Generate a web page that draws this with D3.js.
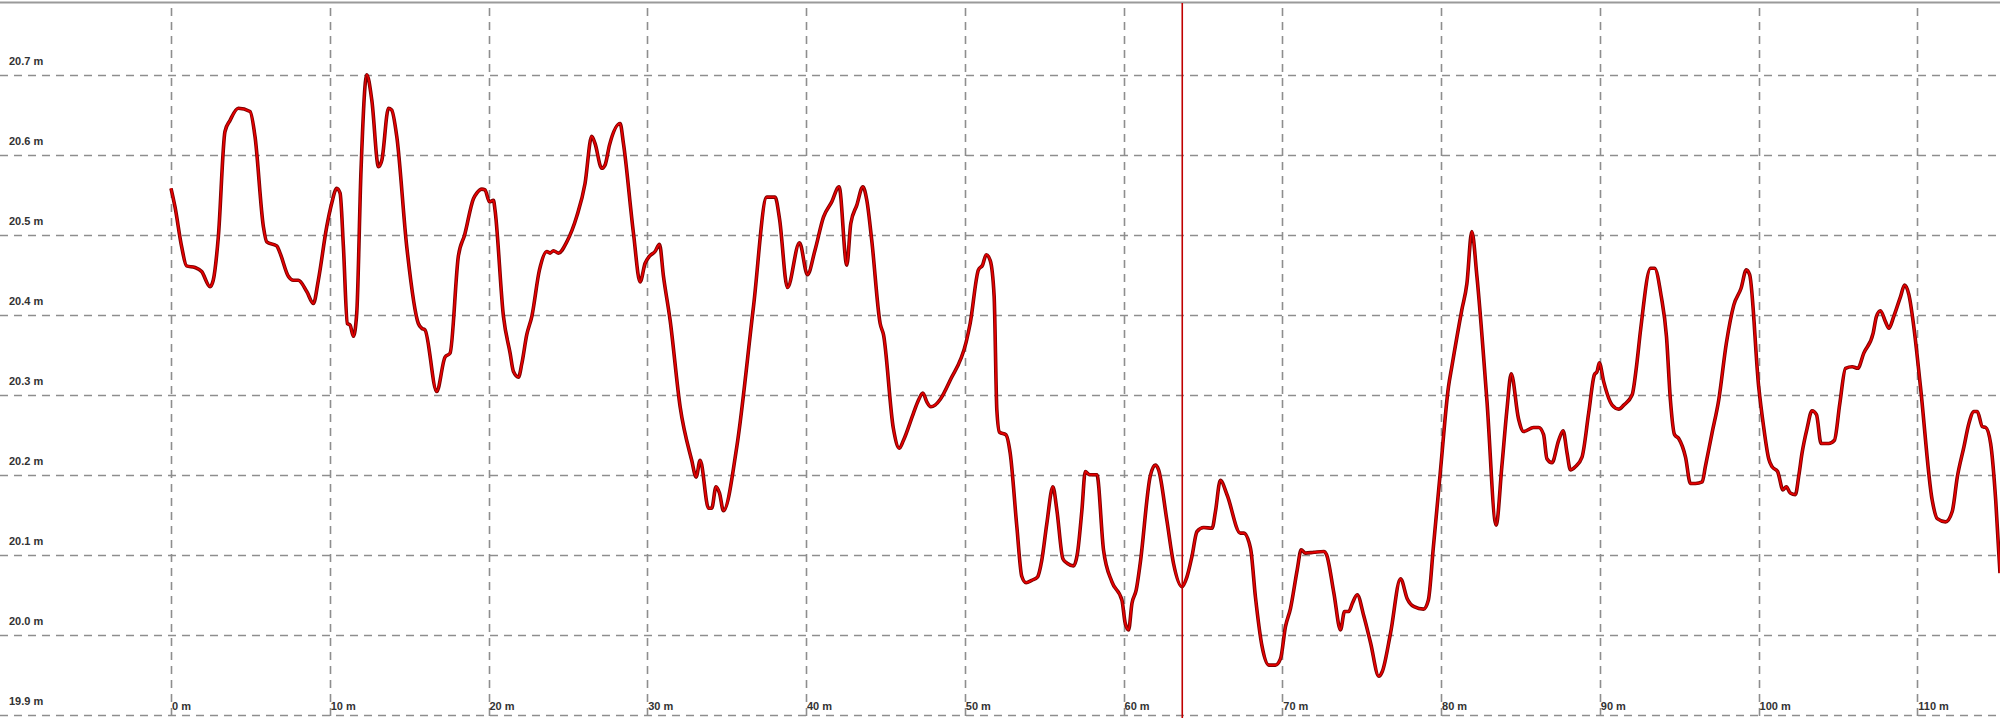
<!DOCTYPE html>
<html>
<head>
<meta charset="utf-8">
<script src="https://cdn.jsdelivr.net/npm/d3@7/dist/d3.min.js"></script>
<style>
  html, body { margin: 0; padding: 0; background: #fff; }
  svg { display: block; }
</style>
</head>
<body>
<svg id="chart" width="2000" height="718"></svg>
<script>
// ---- data ----
const distances = [
  0, 0.25, 0.67, 0.98, 1.51, 1.93, 2.46, 2.66, 2.98, 3.4, 3.72, 4.24, 4.98, 5.29, 5.82, 6.03, 6.66, 6.87, 7.39, 7.71,
  8.02, 8.55, 8.97, 9.28, 9.81, 10.12, 10.44, 10.65, 10.86, 11.11, 11.28, 11.49, 11.7, 11.97, 12.33, 12.65, 13.07, 13.28, 13.7, 13.9,
  14.22, 14.85, 15.58, 15.8, 16.0, 16.74, 17.26, 17.58, 18.1, 18.5, 19.05, 19.26, 19.58, 19.78, 20.06, 20.31, 20.41, 20.94, 21.36, 21.57,
  21.89, 22.1, 22.41, 22.73, 23.21, 23.67, 23.88, 24.09, 24.41, 24.93, 25.56, 26.08, 26.5, 26.71, 27.13, 27.34, 27.62, 28.29, 28.5, 29.13,
  29.55, 29.86, 30.13, 30.49, 30.77, 31.02, 31.44, 32.07, 32.8, 33.08, 33.33, 33.86, 34.06, 34.33, 34.55, 34.8, 35.64, 36.69, 37.53, 38.05,
  38.33, 38.83, 39.59, 40.09, 40.57, 41.1, 41.62, 42.08, 42.57, 42.82, 43.2, 43.58, 43.83, 44.14, 44.67, 44.88, 45.5, 45.88, 46.14, 46.77,
  47.08, 47.36, 47.61, 47.86, 48.13, 48.45, 49.08, 50.09, 50.34, 50.86, 51.12, 51.35, 51.6, 51.85, 52.02, 52.19, 52.59, 52.86, 53.28, 53.59,
  53.86, 54.22, 54.58, 54.85, 55.17, 55.55, 55.8, 56.18, 56.47, 56.85, 57.1, 57.38, 57.59, 57.86, 58.32, 58.74, 59.27, 59.9, 60.11, 60.32,
  60.53, 60.8, 61.05, 61.68, 62.0, 62.21, 62.73, 63.15, 63.68, 63.99, 64.31, 64.63, 65.05, 65.58, 65.79, 66.1, 66.52, 67.36, 67.57, 68.0,
  68.31, 68.73, 69.15, 69.57, 69.89, 70.2, 70.52, 70.94, 71.19, 71.46, 71.99, 72.62, 72.79, 73.25, 73.67, 73.92, 74.19, 74.41, 74.72, 75.14,
  75.56, 76.08, 76.3, 76.82, 77.45, 77.87, 78.3, 78.9, 79.2, 79.52, 79.95, 80.47, 80.68, 81.31, 81.63, 81.94, 82.26, 82.89, 83.47, 83.83,
  84.15, 84.42, 84.88, 85.2, 85.83, 86.15, 86.46, 86.67, 86.99, 87.41, 87.69, 87.94, 88.15, 88.46, 88.88, 89.3, 89.66, 89.83, 89.97, 90.25,
  90.78, 91.2, 91.51, 92.04, 92.31, 92.57, 93.2, 93.45, 93.87, 94.2, 94.45, 94.71, 94.98, 95.4, 95.71, 96.03, 96.45, 96.65, 97.07, 97.49,
  97.97, 98.44, 98.9, 99.23, 99.44, 100.01, 100.32, 100.64, 100.85, 101.2, 101.54, 101.75, 102.0, 102.32, 102.53, 102.74, 103.06, 103.37, 103.65, 103.94,
  104.42, 104.78, 105.12, 105.48, 105.9, 106.25, 106.63, 107.22, 107.43, 107.68, 108.0, 108.21, 108.52, 108.95, 109.2, 109.47, 109.78, 110.2, 110.94, 111.26,
  111.78, 112.2, 112.52, 112.94, 113.25, 113.57, 113.78, 114.1, 114.31, 114.62, 114.94, 115.21
];
const elevations = [
  20.558, 20.535, 20.485, 20.461, 20.459, 20.454, 20.435, 20.443, 20.497, 20.629, 20.643, 20.658, 20.654, 20.623, 20.51, 20.491, 20.486, 20.477, 20.448, 20.443,
  20.443, 20.429, 20.414, 20.443, 20.51, 20.539, 20.558, 20.552, 20.485, 20.389, 20.387, 20.373, 20.402, 20.581, 20.7, 20.668, 20.585, 20.593, 20.658, 20.656,
  20.623, 20.485, 20.389, 20.383, 20.381, 20.304, 20.347, 20.352, 20.473, 20.5, 20.545, 20.552, 20.557, 20.556, 20.541, 20.543, 20.531, 20.398, 20.352, 20.329,
  20.322, 20.339, 20.375, 20.398, 20.456, 20.479, 20.477, 20.48, 20.477, 20.491, 20.523, 20.564, 20.623, 20.614, 20.583, 20.587, 20.612, 20.639, 20.614, 20.502,
  20.441, 20.464, 20.473, 20.479, 20.488, 20.448, 20.393, 20.285, 20.218, 20.197, 20.218, 20.158, 20.158, 20.185, 20.177, 20.155, 20.235, 20.41, 20.547, 20.547,
  20.52, 20.434, 20.49, 20.45, 20.481, 20.522, 20.541, 20.56, 20.462, 20.514, 20.537, 20.56, 20.543, 20.493, 20.389, 20.375, 20.258, 20.233, 20.243, 20.277,
  20.293, 20.302, 20.291, 20.285, 20.287, 20.294, 20.318, 20.366, 20.389, 20.456, 20.462, 20.475, 20.468, 20.423, 20.281, 20.253, 20.25, 20.227, 20.135, 20.073,
  20.065, 20.068, 20.072, 20.093, 20.139, 20.185, 20.156, 20.095, 20.089, 20.086, 20.102, 20.156, 20.204, 20.2, 20.2, 20.106, 20.066, 20.043, 20.014, 20.006,
  20.039, 20.056, 20.089, 20.198, 20.212, 20.206, 20.143, 20.089, 20.06, 20.072, 20.098, 20.129, 20.134, 20.133, 20.154, 20.193, 20.175, 20.127, 20.127, 20.108,
  20.047, 19.985, 19.962, 19.962, 19.97, 20.01, 20.033, 20.081, 20.106, 20.102, 20.103, 20.104, 20.1, 20.052, 20.006, 20.029, 20.029, 20.039, 20.05, 20.023,
  19.99, 19.948, 19.954, 20.002, 20.07, 20.045, 20.035, 20.032, 20.043, 20.11, 20.202, 20.31, 20.335, 20.406, 20.439, 20.504, 20.448, 20.293, 20.137, 20.21,
  20.281, 20.326, 20.27, 20.254, 20.259, 20.259, 20.25, 20.22, 20.215, 20.243, 20.255, 20.227, 20.206, 20.21, 20.222, 20.277, 20.325, 20.329, 20.34, 20.316,
  20.287, 20.282, 20.287, 20.3, 20.335, 20.381, 20.458, 20.458, 20.423, 20.373, 20.293, 20.25, 20.245, 20.222, 20.189, 20.189, 20.191, 20.21, 20.252, 20.293,
  20.364, 20.412, 20.433, 20.456, 20.45, 20.31, 20.26, 20.22, 20.21, 20.204, 20.181, 20.185, 20.177, 20.175, 20.198, 20.227, 20.258, 20.28, 20.275, 20.239,
  20.239, 20.243, 20.289, 20.333, 20.335, 20.333, 20.352, 20.377, 20.398, 20.405, 20.391, 20.383, 20.398, 20.423, 20.437, 20.425, 20.385, 20.31, 20.168, 20.145,
  20.141, 20.154, 20.197, 20.235, 20.264, 20.279, 20.279, 20.26, 20.259, 20.239, 20.168, 20.077
];
const xTicks = [0, 10, 20, 30, 40, 50, 60, 70, 80, 90, 100, 110];
const yTicks = [19.9, 20.0, 20.1, 20.2, 20.3, 20.4, 20.5, 20.6, 20.7];
const cursorDistance = 63.7;

// ---- layout ----
const W = 2000, H = 718;
const svg = d3.select("#chart");
const x = d3.scaleLinear().domain([0, 115.21]).range([171, 2000]);
const y = d3.scaleLinear().domain([19.9, 20.7]).range([714.7, 74.7]);

const gridColor = "#8e8e8e";
const dash = "8,6";

// top border
svg.append("line").attr("x1", 0).attr("x2", W).attr("y1", 2.5).attr("y2", 2.5)
  .attr("stroke", "#9a9a9a").attr("stroke-width", 2);

// horizontal grid
svg.append("g").selectAll("line").data(yTicks).join("line")
  .attr("x1", 0).attr("x2", W)
  .attr("y1", d => Math.round(y(d)) + 0.5).attr("y2", d => Math.round(y(d)) + 0.5)
  .attr("stroke", gridColor).attr("stroke-width", 1.6).attr("stroke-dasharray", dash);

// vertical grid
svg.append("g").selectAll("line").data(xTicks).join("line")
  .attr("x1", d => Math.round(x(d)) + 0.5).attr("x2", d => Math.round(x(d)) + 0.5)
  .attr("y1", 8).attr("y2", H)
  .attr("stroke", gridColor).attr("stroke-width", 1.6).attr("stroke-dasharray", dash);

// y labels
svg.append("g").selectAll("text").data(yTicks).join("text")
  .attr("x", 9).attr("y", d => y(d) - 10)
  .attr("font-family", "Liberation Sans, Arial, sans-serif")
  .attr("font-size", 11).attr("font-weight", "bold").attr("fill", "#333")
  .text(d => d3.format(".1f")(d) + " m");

// x labels
svg.append("g").selectAll("text").data(xTicks).join("text")
  .attr("x", d => x(d) + 1).attr("y", 710)
  .attr("font-family", "Liberation Sans, Arial, sans-serif")
  .attr("font-size", 11).attr("font-weight", "bold").attr("fill", "#333")
  .text(d => d + " m");

// profile line
const pts = distances.map((d, i) => [d, elevations[i]]);
const line = d3.line().x(d => x(d[0])).y(d => y(d[1])).curve(d3.curveMonotoneX);
svg.append("path").attr("d", line(pts)).attr("fill", "none")
  .attr("stroke", "#7a0000").attr("stroke-width", 3.6).attr("stroke-linejoin", "round");
svg.append("path").attr("d", line(pts)).attr("fill", "none")
  .attr("stroke", "#e60000").attr("stroke-width", 1.8).attr("stroke-linejoin", "round");

// cursor line
svg.append("line")
  .attr("x1", x(cursorDistance)).attr("x2", x(cursorDistance))
  .attr("y1", 3).attr("y2", H)
  .attr("stroke", "#c00000").attr("stroke-width", 1.6);
</script>
</body>
</html>
